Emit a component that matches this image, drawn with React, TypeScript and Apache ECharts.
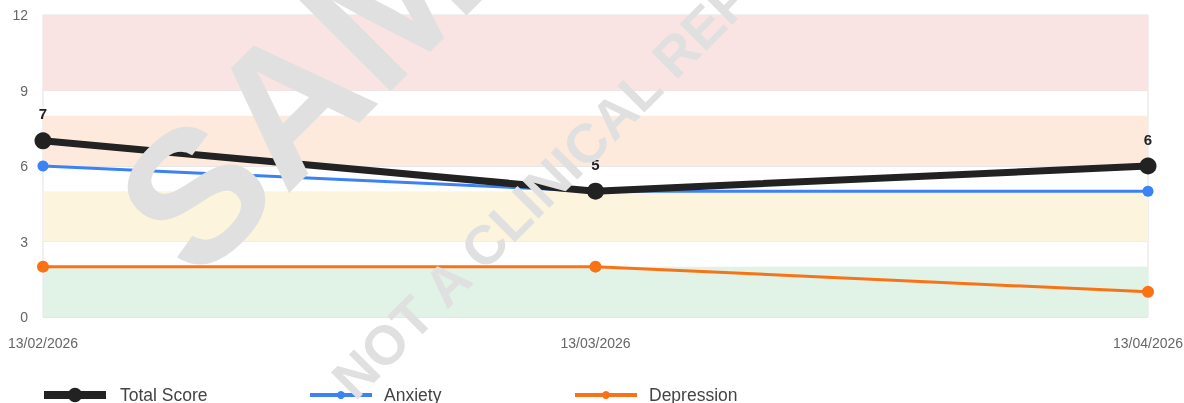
import React, { useEffect, useRef } from "react";
import * as echarts from "echarts";

const dates = ["13/02/2026", "13/03/2026", "13/04/2026"];
const totalScore = [7, 5, 6];
const anxiety = [6, 5, 5];
const depression = [2, 2, 1];
const yTicks = { min: 0, max: 12, interval: 3 };
const bands = [
  { from: 0, to: 2, color: "#e0f3e6" },
  { from: 3, to: 5, color: "#fcf4dc" },
  { from: 6, to: 8, color: "#fdeadd" },
  { from: 9, to: 12, color: "#fae3e3" },
];
const seriesColors = { total: "#222222", anxiety: "#3b82f6", depression: "#f97316" };
const FONT = "'Liberation Sans', Arial, Helvetica, sans-serif";

export default function App() {
  const ref = useRef<HTMLDivElement>(null);
  useEffect(() => {
    if (!ref.current) return;
    const chart = echarts.init(ref.current, undefined, { renderer: "svg" });
    const legendBase = (
      name: string,
      left: number,
      top: number,
      itemHeight: number,
      lw: number,
      gap: number
    ) => ({
      data: [name],
      left,
      top,
      padding: 0,
      itemWidth: 62,
      itemHeight,
      lineStyle: { width: lw },
      textStyle: { fontSize: 17.5, color: "#444", fontFamily: FONT, padding: [0, 0, 0, gap] },
    });
    chart.setOption({
      animation: false,
      textStyle: { fontFamily: FONT },
      grid: {
        left: 43,
        right: 36,
        top: 15,
        bottom: 86,
        show: true,
        borderColor: "#e2e2e2",
        borderWidth: 1,
        outerBoundsMode: "none",
        containLabel: false,
      },
      legend: [
        legendBase("Total Score", 40, 386, 18, 8, 9),
        legendBase("Anxiety", 308, 386, 10, 4, 7),
        legendBase("Depression", 573, 386, 10, 4, 7),
      ],
      xAxis: {
        type: "category",
        data: dates,
        boundaryGap: false,
        axisLine: { show: false },
        axisTick: { show: false },
        axisLabel: { color: "#666", fontSize: 14, margin: 19, fontFamily: FONT },
        splitLine: { show: false },
      },
      yAxis: {
        type: "value",
        min: yTicks.min,
        max: yTicks.max,
        interval: yTicks.interval,
        axisLine: { show: false },
        axisTick: { show: false },
        axisLabel: { color: "#666", fontSize: 14, margin: 15, fontFamily: FONT },
        splitLine: { show: true, lineStyle: { color: "#e6e6e6", width: 1 } },
      },
      series: [
        {
          name: "bands",
          type: "line",
          data: [null, null, null],
          z: 1,
          silent: true,
          markArea: {
            silent: true,
            data: bands.map((b) => [
              { yAxis: b.from, itemStyle: { color: b.color } },
              { yAxis: b.to },
            ]),
          },
        },
        {
          name: "Total Score",
          type: "line",
          data: totalScore,
          z: 4,
          symbol: "circle",
          symbolSize: 17,
          color: seriesColors.total,
          lineStyle: { width: 7, color: seriesColors.total },
          itemStyle: { color: seriesColors.total },
          label: {
            show: true,
            position: "top",
            distance: 11,
            fontSize: 15,
            fontWeight: "bold",
            color: "#222",
            fontFamily: FONT,
          },
        },
        {
          name: "Anxiety",
          type: "line",
          data: anxiety,
          z: 3,
          symbol: "circle",
          symbolSize: 11,
          color: seriesColors.anxiety,
          lineStyle: { width: 3, color: seriesColors.anxiety },
          itemStyle: { color: seriesColors.anxiety },
        },
        {
          name: "Depression",
          type: "line",
          data: depression,
          z: 3,
          symbol: "circle",
          symbolSize: 12,
          color: seriesColors.depression,
          lineStyle: { width: 3, color: seriesColors.depression },
          itemStyle: { color: seriesColors.depression },
        },
      ],
      graphic: [
        {
          type: "text",
          x: 428,
          y: -38,
          rotation: Math.PI / 4,
          z: 100,
          silent: true,
          style: {
            text: "SAMPLE",
            fontSize: 188,
            fontWeight: "bold",
            fontFamily: FONT,
            fill: "#e0e0e0",
            align: "center",
            verticalAlign: "middle",
          },
        },
        {
          type: "text",
          x: 583,
          y: 147,
          rotation: Math.PI / 4,
          z: 100,
          silent: true,
          style: {
            text: "NOT A CLINICAL REPORT",
            fontSize: 55,
            fontWeight: "bold",
            fontFamily: FONT,
            fill: "#e0e0e0",
            align: "center",
            verticalAlign: "middle",
          },
        },
      ],
    });
    return () => chart.dispose();
  }, []);
  return (
    <div
      ref={ref}
      style={{ position: "fixed", left: 0, top: 0, width: 1184, height: 403 }}
    />
  );
}
